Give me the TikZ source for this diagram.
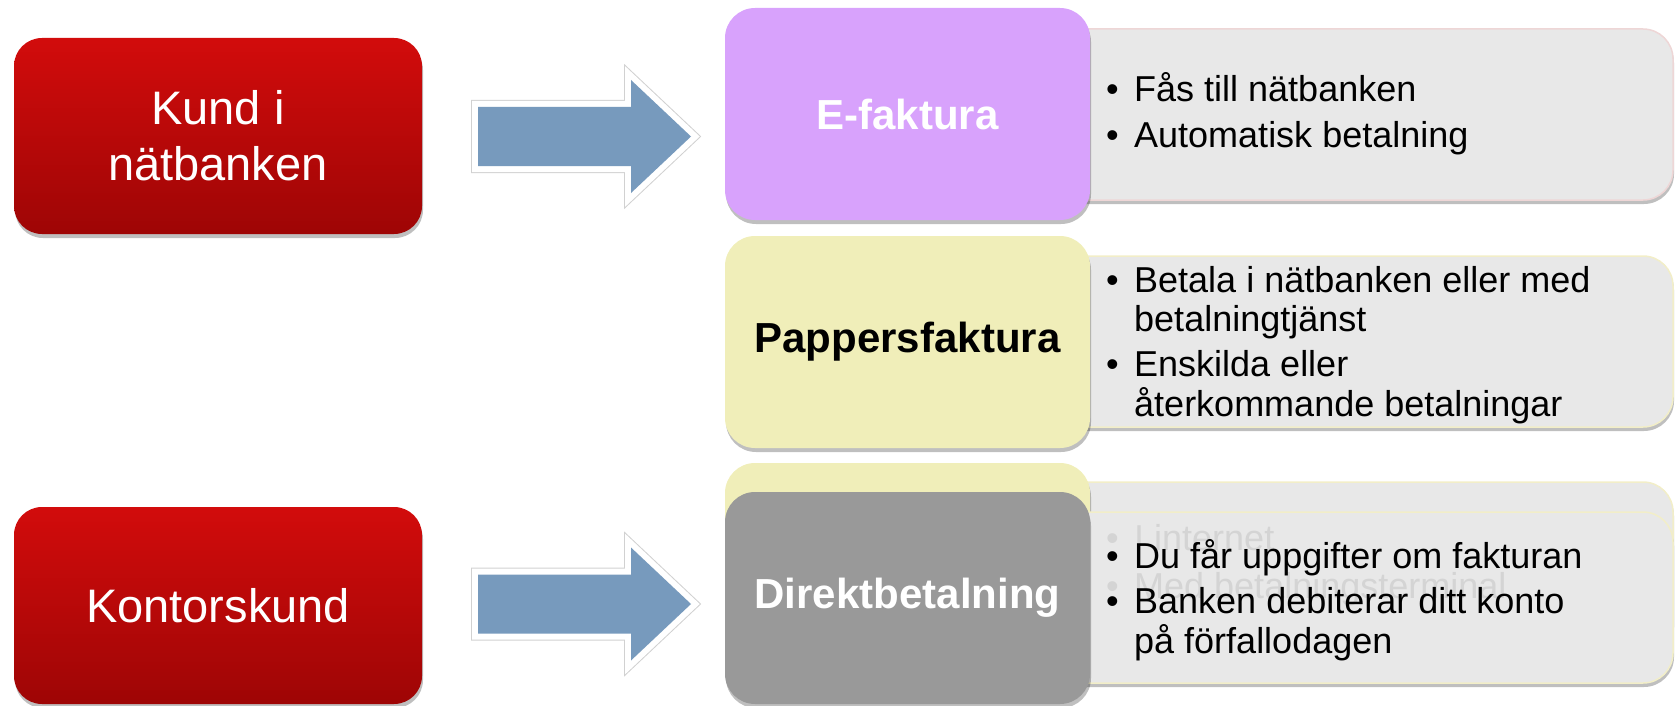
\documentclass[tikz,border=0pt]{standalone}
\usepackage{fontspec}
\setmainfont{Liberation Sans}
\usetikzlibrary{shadows}
\definecolor{redtop}{RGB}{210,12,12}
\definecolor{redbot}{RGB}{158,5,5}
\definecolor{arrowblue}{RGB}{119,154,189}
\definecolor{purplebox}{RGB}{216,162,252}
\definecolor{yellowbox}{RGB}{240,238,185}
\definecolor{darkgraybox}{RGB}{153,153,153}
\definecolor{lightgraybox}{RGB}{232,232,232}
\definecolor{ghost}{RGB}{212,212,212}
\definecolor{pinkedge}{RGB}{238,214,214}
\definecolor{yellowedge}{RGB}{242,238,200}
\tikzset{
 boxshadow/.style={drop shadow={shadow xshift=1pt, shadow yshift=-4pt, opacity=0.25, fill=black}},
 redbox/.style={rounded corners=28pt, top color=redtop, bottom color=redbot, draw=none, boxshadow, text=white, font=\fontsize{47}{56}\selectfont, align=center, minimum width=408pt, minimum height=196pt, inner sep=0pt},
 catbox/.style={rounded corners=30pt, draw=none, boxshadow, minimum width=365pt, minimum height=212pt, inner sep=0pt, font=\bfseries\fontsize{42}{48}\selectfont},
 infobox/.style={rounded corners=30pt, fill=lightgraybox, draw=#1, line width=1.5pt, boxshadow, minimum width=633pt, minimum height=171pt, inner sep=0pt},
 listtext/.style={anchor=base west, inner sep=0pt, font=\fontsize{36}{39}\selectfont},
 arrowshape/.style={insert path={++(0,-29.5) -- ++(153,0) -- ++(0,-27) -- ++(60,56.5) -- ++(-60,56.5) -- ++(0,-27) -- ++(-153,0) -- cycle}},
 arrowshade/.style={draw=black!18, line width=14pt, line join=miter, xshift=1pt, yshift=-2pt},
 arrowrim/.style={draw=white, line width=12pt, line join=miter},
 arrowbody/.style={fill=arrowblue},
}
\begin{document}
\begin{tikzpicture}[x=1pt,y=-1pt]
\useasboundingbox (0,0) rectangle (1678,706);
% left customer boxes
\node[redbox] (k1) at (218,136) {Kund i\\nätbanken};
\node[redbox, minimum height=197pt] (k2) at (218,605.5) {Kontorskund};
% block arrows
\coordinate (arr1) at (478,136.5);
\coordinate (arr2) at (478,604);
\foreach \c in {arr1,arr2}{
 \draw[arrowshade] (\c) [arrowshape];
 \draw[arrowrim] (\c) [arrowshape];
 \fill[arrowbody] (\c) [arrowshape];
}
% row 1
\node[infobox=pinkedge] (g1) at (1356.5,114.5) {};
\node[catbox, fill=purplebox, text=white] (c1) at (907.5,114) {E-faktura};
\node[listtext] (t1) at (1106,102) {\begin{tabular}[t]{@{}p{28pt}@{}l@{}}•&Fås till nätbanken\\[7pt]•&Automatisk betalning\end{tabular}};
% row 2
\node[infobox=yellowedge] (g2) at (1356.5,341.5) {};
\node[catbox, fill=yellowbox, text=black] (c2) at (907.5,342) {Pappersfaktura};
\node[listtext] (t2) at (1106,292) {\begin{tabular}[t]{@{}p{28pt}@{}l@{}}•&Betala i nätbanken eller med\\&betalningtjänst\\[6pt]•&Enskilda eller\\&återkommande betalningar\end{tabular}};
% row 3 (back layer)
\node[infobox=yellowedge] (g3b) at (1356.5,567.5) {};
\node[catbox, fill=yellowbox] (c3b) at (907.5,569) {};
% row 3 (front layer)
\node[infobox=yellowedge] (g3) at (1356.5,597.5) {};
\node[listtext, text=ghost] (t3b) at (1106,550) {\begin{tabular}[t]{@{}p{28pt}@{}l@{}}•&I internet\\[9pt]•&Med betalningsterminal\end{tabular}};
\node[catbox, fill=darkgraybox, text=white] (c3) at (907.5,598) {Direktbetalning};
\node[listtext] (t3) at (1106,568) {\begin{tabular}[t]{@{}p{28pt}@{}l@{}}•&Du får uppgifter om fakturan\\[6pt]•&Banken debiterar ditt konto\\&på förfallodagen\end{tabular}};
\end{tikzpicture}
\end{document}
